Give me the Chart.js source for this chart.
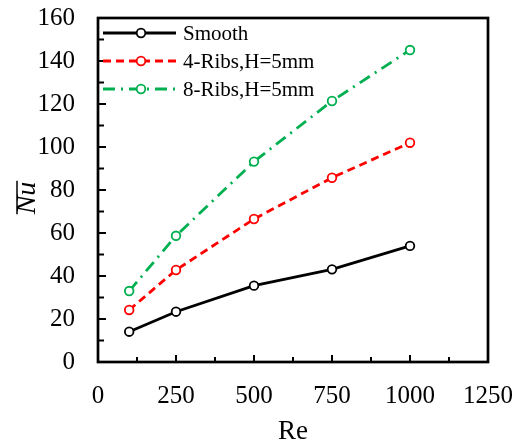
<!DOCTYPE html>
<html>
<head>
<meta charset="utf-8">
<script src="https://cdn.jsdelivr.net/npm/chart.js@4"></script>
<style>
  body { margin: 0; background: #fff; }
  #wrap { width: 521px; height: 448px; position: relative; }
</style>
</head>
<body>
<div id="wrap"><canvas id="nuChart"></canvas></div>
<script>
// data
const re = [100, 250, 500, 750, 1000];
const smooth = [14.1, 23.4, 35.5, 43.1, 54.0];
const ribs4 = [24.2, 42.8, 66.5, 85.7, 102.0];
const ribs8 = [33.0, 58.7, 93.2, 121.4, 145.1];
const seriesNames = ['Smooth', '4-Ribs,H=5mm', '8-Ribs,H=5mm'];

const FONT = "'Liberation Serif', 'Times New Roman', serif";

function pts(ys) {
  return re.map((x, i) => ({ x: x, y: ys[i] }));
}

function makeSet(label, ys, color, dash) {
  return {
    label: label,
    data: pts(ys),
    borderColor: color,
    borderWidth: 2.8,
    borderDash: dash,
    pointRadius: 4.3,
    pointBorderWidth: 1.8,
    pointBackgroundColor: '#fff',
    pointBorderColor: color,
    fill: false,
    tension: 0
  };
}

// box, inward ticks, legend and the y title
const extras = {
  id: 'extras',
  afterDatasetsDraw(chart) {
    const ctx = chart.ctx;
    const a = chart.chartArea;
    const xs = chart.scales.x, ys = chart.scales.y;
    ctx.save();
    ctx.strokeStyle = '#000';

    // ticks (major + minor, pointing inside)
    ctx.lineWidth = 2;
    for (let v = 0; v <= 1250; v += 125) {
      const px = xs.getPixelForValue(v);
      const len = (v % 250 === 0) ? 7 : 5;
      ctx.beginPath(); ctx.moveTo(px, a.bottom); ctx.lineTo(px, a.bottom - len); ctx.stroke();
    }
    for (let v = 0; v <= 160; v += 10) {
      const py = ys.getPixelForValue(v);
      const len = (v % 20 === 0) ? 8 : 6;
      ctx.beginPath(); ctx.moveTo(a.left, py); ctx.lineTo(a.left + len, py); ctx.stroke();
    }

    // frame
    ctx.lineWidth = 2.7;
    ctx.strokeRect(a.left, a.top, a.right - a.left, a.bottom - a.top);

    // legend
    const sets = chart.data.datasets;
    const rows = [33, 61, 89];
    ctx.font = '21px ' + FONT;
    ctx.textBaseline = 'middle';
    ctx.textAlign = 'left';
    sets.forEach((ds, i) => {
      const y = rows[i];
      ctx.strokeStyle = ds.borderColor;
      ctx.lineWidth = ds.borderWidth;
      ctx.setLineDash(ds.borderDash || []);
      ctx.beginPath(); ctx.moveTo(103, y); ctx.lineTo(176, y); ctx.stroke();
      ctx.setLineDash([]);
      ctx.lineWidth = ds.pointBorderWidth;
      ctx.fillStyle = '#fff';
      ctx.beginPath(); ctx.arc(141, y, ds.pointRadius, 0, Math.PI * 2); ctx.fill(); ctx.stroke();
      ctx.fillStyle = '#000';
      ctx.fillText(seriesNames[i], 183, y + 1);
    });

    // y title: Nu with overline
    ctx.translate(28, 198);
    ctx.rotate(-Math.PI / 2);
    ctx.font = 'italic 28px ' + FONT;
    ctx.textAlign = 'center';
    ctx.textBaseline = 'middle';
    ctx.fillStyle = '#000';
    ctx.fillText('Nu', 0, 0);
    const w = ctx.measureText('Nu').width;
    ctx.strokeStyle = '#000';
    ctx.lineWidth = 1.5;
    ctx.beginPath(); ctx.moveTo(-w / 2, -11); ctx.lineTo(w / 2 + 1, -11); ctx.stroke();
    ctx.restore();
  }
};

const ctx = document.getElementById('nuChart').getContext('2d');
const nuChart = new Chart(ctx, {
  type: 'line',
  data: {
    datasets: [
      makeSet(seriesNames[0], smooth, '#000000', []),
      makeSet(seriesNames[1], ribs4, '#ff0000', [8, 5]),
      makeSet(seriesNames[2], ribs8, '#00b050', [12, 6, 2, 6])
    ]
  },
  options: {
    responsive: true,
    maintainAspectRatio: false,
    animation: false,
    layout: { padding: { top: 18, right: 33, left: 0, bottom: 0 } },
    plugins: {
      legend: { display: false },
      tooltip: { enabled: false }
    },
    scales: {
      x: {
        type: 'linear',
        min: 0, max: 1250,
        ticks: {
          stepSize: 250, color: '#000', padding: 19, maxRotation: 0,
          font: { family: FONT, size: 25 },
          callback: (v) => String(v)
        },
        grid: { display: false, drawTicks: false },
        border: { display: false },
        title: { display: true, text: 'Re', color: '#000', font: { family: FONT, size: 27 }, padding: 0 },
        afterFit(scale) {
          scale.height = 86;
          scale.paddingLeft = 0;
          scale.paddingRight = 0;
        }
      },
      y: {
        min: 0, max: 160,
        ticks: {
          stepSize: 20, color: '#000', padding: 23,
          font: { family: FONT, size: 25 },
          callback: (v) => String(v)
        },
        grid: { display: false, drawTicks: false },
        border: { display: false },
        afterFit(scale) {
          scale.width = 98;
          scale.paddingTop = 0;
          scale.paddingBottom = 0;
        }
      }
    }
  },
  plugins: [extras]
});
</script>
</body>
</html>
